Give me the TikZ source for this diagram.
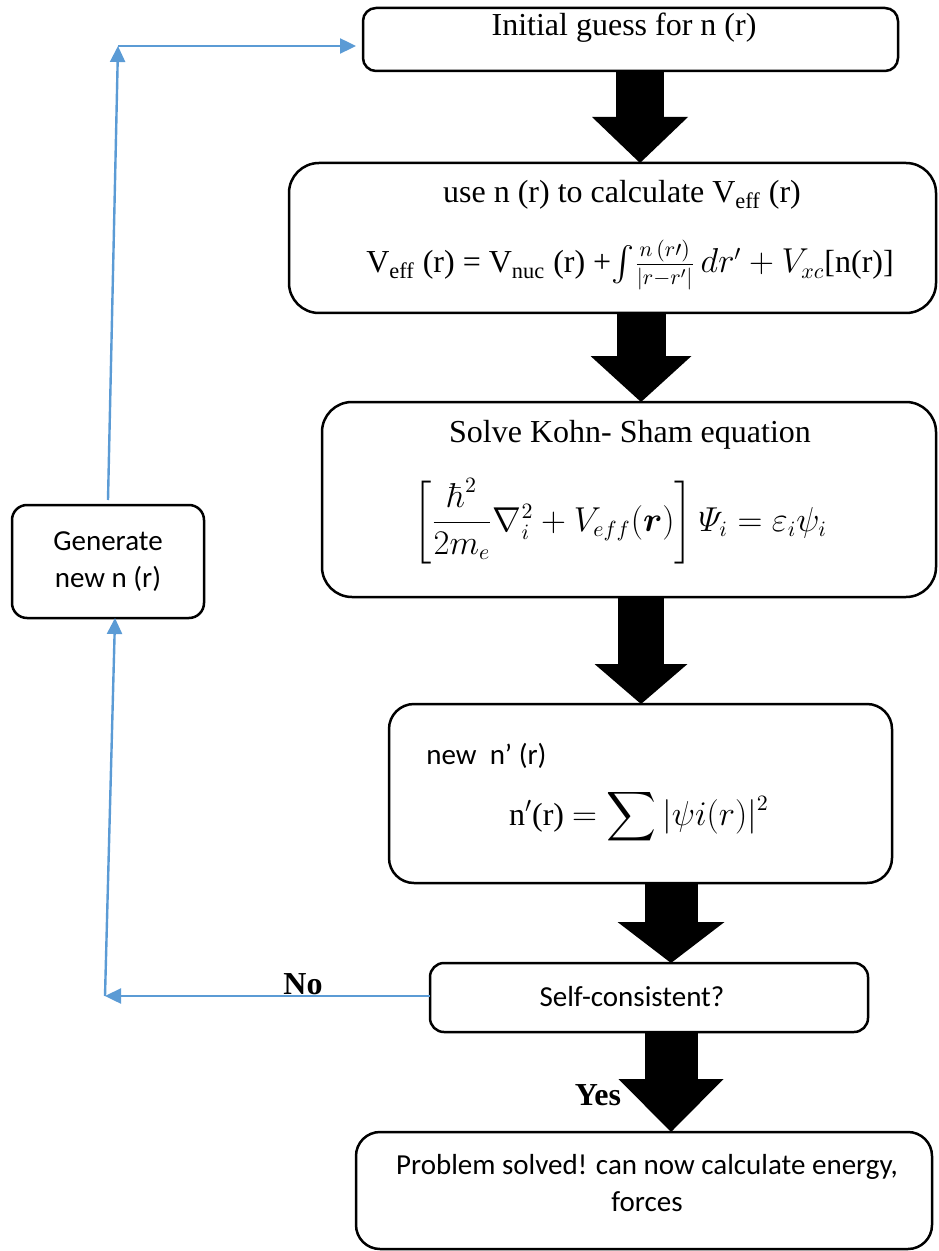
\documentclass[tikz,border=0pt]{standalone}
\usepackage{amsmath}
\usepackage[no-math]{fontspec}
\setmainfont{Liberation Serif}
\newfontfamily\calibri{Carlito}
\usetikzlibrary{arrows.meta, calc}
\definecolor{wordblue}{RGB}{91,155,213}

\begin{document}
\begin{tikzpicture}[x=0.5pt,y=-0.5pt,
	box/.style={draw,line width=1.25pt,inner sep=0pt,outer sep=0pt},
	serif/.style={font=\fontsize{16}{19}\selectfont,inner sep=0pt},
	sans/.style={font=\calibri\fontsize{14.5}{18.5}\selectfont,inner sep=0pt,align=center},
	answer/.style={font=\bfseries\fontsize{16}{19}\selectfont,inner sep=0pt},
	feedback/.style={draw=wordblue,line width=1.2pt,-{Triangle[length=8pt,width=7.5pt]}},
	bigarrow/.style n args={3}{line width=#1,-{Triangle[length=#3,width=#2,line width=0pt]}}]
		\useasboundingbox (0,0) rectangle (938,1251);
		
		\node(init) at (630.5,39.5)[box,rounded corners=6.5pt,minimum width=267.5pt,minimum height=31.5pt]{};
		\node(veff) at (612.5,238)[box,rounded corners=15pt,minimum width=323.5pt,minimum height=75pt]{};
		\node(ks) at (629,499.5)[box,rounded corners=15pt,minimum width=307pt,minimum height=97.5pt]{};
		\node(newn) at (640.5,793.5)[box,rounded corners=12.5pt,minimum width=251.5pt,minimum height=89.5pt]{};
		\node(sc) at (649,997.5)[box,rounded corners=7pt,minimum width=219pt,minimum height=34.5pt]{};
		\node(gen) at (108,561.5)[box,rounded corners=7.5pt,minimum width=96pt,minimum height=56.5pt]{};
		\node(done) at (644,1190.5)[box,rounded corners=12pt,minimum width=288pt,minimum height=58.5pt]{};
		
		\node(inittext) at (624,36)[serif,anchor=base]{Initial guess for n (r)};
		\node(vefftext) at (622,203)[serif,anchor=base]{use n (r) to calculate V\textsubscript{eff} (r)};
		\node(veffeq) at (630,273)[serif,anchor=base]{V\textsubscript{eff} (r) = V\textsubscript{nuc} (r) +$\int\!\frac{n\,(r\prime)}{|r-r'|}\,dr'+V_{xc}$[n(r)]};
		\node(kstext) at (630,442)[serif,anchor=base]{Solve Kohn- Sham equation};
		\node(kseq) at (620,521)[serif]{$\left[\dfrac{\hbar^2}{2m_e}\nabla_i^2+V_{eff}(\boldsymbol{r})\right]\varPsi_i=\varepsilon_i\psi_i$};
		\node(newntext) at (426,764)[sans,anchor=base west]{new\ \ n’ (r)};
		\node(newneq) at (639,825)[serif,anchor=base]{n$'$(r) $=\displaystyle\sum|\psi i(r)|^2$};
		\node(sctext) at (632,1006)[sans,anchor=base]{Self-consistent?};
		\node(gentext) at (108,561.5)[sans]{Generate\\new n (r)};
		\node(donetext) at (647,1183)[sans]{Problem solved! can now calculate energy,\\forces};
		\node(no) at (303,994)[answer,anchor=base]{No};
		\node(yes) at (598,1105)[answer,anchor=base]{Yes};
		
		\coordinate(a1) at ($(init.south)+(9.5,0)$);
		\coordinate(a2) at ($(veff.south)+(28.5,0)$);
		\coordinate(a3) at ($(ks.south)+(12,0)$);
		\coordinate(a4) at ($(newn.south)+(30.5,0)$);
		\coordinate(a5) at ($(sc.south)+(22,0)$);
		\draw[bigarrow={24pt}{48pt}{23pt}] (a1) -- (a1 |- veff.north);
		\draw[bigarrow={24.5pt}{50.5pt}{23pt}] (a2) -- (a2 |- ks.north);
		\draw[bigarrow={23pt}{46.5pt}{20pt}] (a3) -- (a3 |- newn.north);
		\draw[bigarrow={26.5pt}{53.5pt}{20.5pt}] (a4) -- (a4 |- sc.north);
		\draw[bigarrow={26.5pt}{52.5pt}{26.5pt}] (a5) -- (a5 |- done.north);
		
		\coordinate(nocorner) at (105,996);
		\coordinate(topcorner) at (118,46);
		\draw[feedback] (sc.west |- nocorner) -- (nocorner);
		\draw[feedback] (nocorner) -- ($(gen.south)+(7,0)$);
		\draw[feedback] ($(gen.north)+(0,-5)$) -- (topcorner);
		\draw[feedback,shorten >=3.5pt] (topcorner) -- (topcorner -| init.west);
		
	\end{tikzpicture}
\end{document}
